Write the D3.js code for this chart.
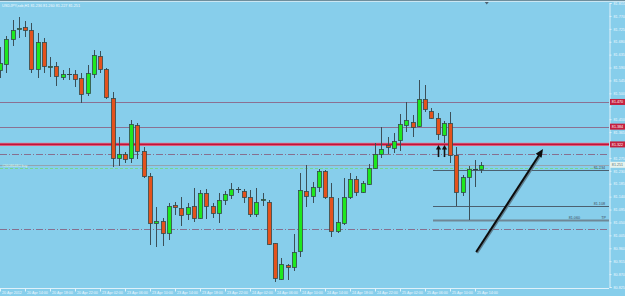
<!DOCTYPE html>
<html>
<head>
<meta charset="utf-8">
<script src="https://cdn.jsdelivr.net/npm/d3@7"></script>
<style>
  body { margin: 0; background: #87ceeb; overflow: hidden; }
  svg { display: block; font-family: "Liberation Sans", Arial, sans-serif; }
</style>
</head>
<body>
<div id="chart"></div>
<script>
// USDJPY H1, bars from 20 Apr 10:00 to 25 Apr 15:00
const openP  = [81.582,81.602,81.690,81.724,81.731,81.721,81.585,81.679,81.596,81.596,81.557,81.568,81.568,81.554,81.501,81.568,81.630,81.585,81.484,81.275,
                81.289,81.275,81.390,81.299,81.212,81.048,81.055,81.013,81.111,81.101,81.080,81.108,81.066,81.153,81.108,81.083,81.128,81.146,81.167,81.160,
                81.139,81.080,81.128,81.121,80.979,80.853,80.902,80.895,80.951,81.160,81.142,81.174,81.230,81.139,81.020,81.048,81.139,81.202,81.156,81.184,
                81.240,81.289,81.320,81.310,81.338,81.390,81.400,81.386,81.480,81.439,81.414,81.355,81.397,81.285,81.156,81.209,81.237,81.237];
const highP  = [81.662,81.700,81.756,81.766,81.752,81.745,81.710,81.693,81.627,81.609,81.582,81.589,81.582,81.571,81.599,81.651,81.648,81.587,81.505,81.348,
                81.296,81.407,81.395,81.313,81.223,81.104,81.066,81.118,81.121,81.139,81.118,81.170,81.163,81.167,81.118,81.153,81.160,81.188,81.174,81.167,
                81.163,81.170,81.153,81.128,80.980,80.926,80.905,81.010,81.223,81.250,81.191,81.237,81.233,81.188,81.135,81.205,81.223,81.212,81.195,81.254,
                81.327,81.383,81.348,81.362,81.428,81.470,81.425,81.547,81.529,81.449,81.432,81.404,81.435,81.313,81.216,81.247,81.268,81.261];
const lowP   = [81.554,81.571,81.665,81.693,81.697,81.571,81.554,81.571,81.557,81.526,81.547,81.547,81.522,81.467,81.491,81.554,81.571,81.480,81.243,81.247,
                81.257,81.257,81.271,81.205,80.972,80.965,80.968,80.989,81.076,81.038,81.059,81.052,81.062,81.062,81.066,81.048,81.111,81.132,81.153,81.118,
                81.069,81.069,81.108,80.972,80.843,80.850,80.850,80.881,80.930,81.104,81.118,81.156,81.132,80.999,81.013,81.041,81.132,81.142,81.153,81.181,
                81.237,81.275,81.289,81.292,81.299,81.365,81.348,81.383,81.435,81.411,81.338,81.327,81.257,81.108,81.142,81.059,81.174,81.223];
const closeP = [81.606,81.690,81.721,81.728,81.721,81.585,81.679,81.596,81.597,81.561,81.568,81.568,81.550,81.498,81.571,81.634,81.585,81.487,81.275,81.289,
                81.271,81.393,81.299,81.212,81.048,81.055,81.013,81.108,81.104,81.076,81.104,81.066,81.153,81.108,81.083,81.128,81.149,81.167,81.167,81.139,
                81.080,81.121,81.132,80.975,80.857,80.905,80.895,80.947,81.163,81.142,81.174,81.230,81.139,81.020,81.052,81.139,81.202,81.156,81.188,81.240,
                81.289,81.306,81.313,81.334,81.393,81.407,81.383,81.480,81.446,81.414,81.358,81.397,81.285,81.156,81.209,81.237,81.237,81.250];

const timeLabels = ["20 Apr 2012","20 Apr 14:00","20 Apr 18:00","20 Apr 22:00","23 Apr 02:00","23 Apr 06:00","23 Apr 10:00",
                    "23 Apr 14:00","23 Apr 18:00","23 Apr 22:00","24 Apr 02:00","24 Apr 06:00","24 Apr 10:00","24 Apr 14:00",
                    "24 Apr 18:00","24 Apr 22:00","25 Apr 02:00","25 Apr 06:00","25 Apr 10:00","25 Apr 14:00"];
const labelBars = timeLabels.map((d, i) => i * 4);

const priceTicks = [81.815,81.770,81.725,81.680,81.635,81.590,81.545,81.500,81.455,81.410,81.365,81.320,
                    81.275,81.230,81.185,81.140,81.095,81.050,81.005,80.960,80.915,80.870,80.825];

const levelPrices = [81.470, 81.384, 81.322];
const dashDotPrices = [81.290, 81.027];
const bidPrice = 81.251;
const orderOpen = 81.240;
const orderPrices = [81.234, 81.108, 81.060];
const orderLabels = ["81.234", "81.108", "81.060"];
const orderStartBar = 69.2;
const trendArrow = [[76.1, 80.947], [86.8, 81.306]];
const upArrowBars = [70, 71];
const upArrowPrices = [81.320, 81.278];

const W = 625, H = 296, axisX = 609, axisY = 288;

const svg = d3.select("#chart").append("svg")
    .attr("width", W)
    .attr("height", H);

const x = d3.scaleLinear().domain([0, 96]).range([0.5, 600.5]);
const y = d3.scaleLinear().domain([80.825, 81.815]).range([287, 3]);

svg.append("rect").attr("width", W).attr("height", H).attr("fill", "#87ceeb");

// top border
svg.append("rect").attr("x", 0).attr("y", 0).attr("width", W).attr("height", 1).attr("fill", "#6e8e9c");
svg.append("rect").attr("x", 0).attr("y", 1).attr("width", W).attr("height", 1).attr("fill", "#c9e6f3");

// header
svg.append("text")
    .attr("x", 2).attr("y", 7)
    .attr("font-size", 3.8)
    .attr("fill", "#f2faff")
    .text("USDJPY,sxb,H1  81.236 81.260 81.227 81.251");

// shift marker
const tx = x(77.8);
svg.append("path")
    .attr("d", `M${tx - 2},2 L${tx + 2},2 L${tx},4.5 Z`)
    .attr("fill", "#4a6070");

// horizontal levels
const py = p => Math.round(y(p)) + 0.5;
svg.selectAll(".level").data(levelPrices.slice(0, 2)).enter().append("line")
    .attr("x1", 0).attr("x2", axisX)
    .attr("y1", d => py(d)).attr("y2", d => py(d))
    .attr("stroke", "#8b7192").attr("stroke-width", 1);

svg.append("line")
    .attr("x1", 0).attr("x2", axisX)
    .attr("y1", y(levelPrices[2])).attr("y2", y(levelPrices[2]))
    .attr("stroke", "#e07890").attr("stroke-width", 3.2);
svg.append("line")
    .attr("x1", 0).attr("x2", axisX)
    .attr("y1", y(levelPrices[2])).attr("y2", y(levelPrices[2]))
    .attr("stroke", "#c0123a").attr("stroke-width", 1.8);

svg.selectAll(".dashdot").data(dashDotPrices).enter().append("line")
    .attr("x1", 0).attr("x2", axisX - 2)
    .attr("y1", d => py(d)).attr("y2", d => py(d))
    .attr("stroke", "#86708f").attr("stroke-width", 1)
    .attr("stroke-dasharray", "7,2,1,2");

// bid line
svg.append("line")
    .attr("x1", 0).attr("x2", axisX)
    .attr("y1", py(bidPrice)).attr("y2", py(bidPrice))
    .attr("stroke", "#94a2b0").attr("stroke-width", 1);

// open order line
svg.append("line")
    .attr("x1", 0).attr("x2", axisX - 8)
    .attr("y1", py(orderOpen)).attr("y2", py(orderOpen))
    .attr("stroke", "#74d890").attr("stroke-width", 1)
    .attr("stroke-dasharray", "3,2");
svg.append("text")
    .attr("x", 2).attr("y", py(bidPrice) + 1.5)
    .attr("font-size", 3.7)
    .attr("fill", "#dff5e6")
    .text("#26086480 buy");

// order / target lines
svg.selectAll(".order").data(orderPrices).enter().append("line")
    .attr("x1", x(orderStartBar)).attr("x2", axisX)
    .attr("y1", d => py(d)).attr("y2", d => py(d))
    .attr("stroke", (d, i) => i === 2 ? "#6f8796" : "#4b6070")
    .attr("stroke-width", (d, i) => i === 2 ? 2 : 1);

svg.selectAll(".orderLabel").data(orderPrices).enter().append("text")
    .attr("x", (d, i) => i === 2 ? 580 : 605)
    .attr("y", d => py(d) - 1.5)
    .attr("text-anchor", "end")
    .attr("font-size", 3.7)
    .attr("fill", "#3c4c5a")
    .text((d, i) => orderLabels[i]);
svg.append("text")
    .attr("x", 606).attr("y", py(orderPrices[2]) - 1.5)
    .attr("text-anchor", "end")
    .attr("font-size", 3.7)
    .attr("fill", "#3c4c5a")
    .text("TP");

// candles
const bars = d3.range(openP.length).map(i => ({
    i: i, o: openP[i], h: highP[i], l: lowP[i], c: closeP[i]
}));

const g = svg.append("g");
g.selectAll(".wick").data(bars).enter().append("line")
    .attr("x1", d => Math.floor(x(d.i)) + 0.5)
    .attr("x2", d => Math.floor(x(d.i)) + 0.5)
    .attr("y1", d => Math.round(y(d.h)))
    .attr("y2", d => Math.round(y(d.l)))
    .attr("stroke", "#3b4f58")
    .attr("stroke-width", 1);

g.selectAll(".body").data(bars.filter(d => d.o !== d.c)).enter().append("rect")
    .attr("x", d => Math.floor(x(d.i)) - 1.5)
    .attr("y", d => Math.round(y(Math.max(d.o, d.c))) + 0.5)
    .attr("width", 4)
    .attr("height", d => Math.max(1, Math.round(y(Math.min(d.o, d.c))) - Math.round(y(Math.max(d.o, d.c)))))
    .attr("fill", d => d.c > d.o ? "#1ee81e" : "#e4521c")
    .attr("stroke", "#344a4a")
    .attr("stroke-width", 0.8);

g.selectAll(".doji").data(bars.filter(d => d.o === d.c)).enter().append("line")
    .attr("x1", d => Math.floor(x(d.i)) - 2)
    .attr("x2", d => Math.floor(x(d.i)) + 3)
    .attr("y1", d => Math.round(y(d.o)) + 0.5)
    .attr("y2", d => Math.round(y(d.o)) + 0.5)
    .attr("stroke", "#2f4048")
    .attr("stroke-width", 1);

// up arrows
upArrowBars.forEach(b => {
    const ax = Math.floor(x(b)) + 0.5, top = y(upArrowPrices[0]), bot = y(upArrowPrices[1]);
    svg.append("line")
        .attr("x1", ax).attr("x2", ax).attr("y1", top + 3).attr("y2", bot)
        .attr("stroke", "#111").attr("stroke-width", 1.6);
    svg.append("path")
        .attr("d", `M${ax},${top} L${ax - 2.6},${top + 4.5} L${ax + 2.6},${top + 4.5} Z`)
        .attr("fill", "#111");
});

// trend arrow
const ax1 = x(trendArrow[0][0]), ay1 = y(trendArrow[0][1]);
const ax2 = x(trendArrow[1][0]), ay2 = y(trendArrow[1][1]);
const ang = Math.atan2(ay2 - ay1, ax2 - ax1);
svg.append("line")
    .attr("x1", ax1 + 1).attr("y1", ay1 + 1).attr("x2", ax2 - 6 * Math.cos(ang) + 1).attr("y2", ay2 - 6 * Math.sin(ang) + 1)
    .attr("stroke", "#5f7f8f").attr("stroke-width", 2.2);
svg.append("line")
    .attr("x1", ax1).attr("y1", ay1).attr("x2", ax2 - 5 * Math.cos(ang)).attr("y2", ay2 - 5 * Math.sin(ang))
    .attr("stroke", "#0c0c0c").attr("stroke-width", 2);
const hl = 8, hw = 3.5;
const bx = ax2 - hl * Math.cos(ang), by = ay2 - hl * Math.sin(ang);
svg.append("path")
    .attr("d", `M${ax2},${ay2} L${bx + hw * Math.sin(ang)},${by - hw * Math.cos(ang)} L${bx - hw * Math.sin(ang)},${by + hw * Math.cos(ang)} Z`)
    .attr("fill", "#0c0c0c");

// price axis (labels hidden under price boxes are left blank)
const boxPrices = levelPrices.concat([bidPrice]);
const hiddenTick = d => boxPrices.some(p => Math.abs(y(p) - y(d)) < 5);
const yAxis = svg.append("g")
    .attr("transform", `translate(${axisX + 0.5},0)`)
    .call(d3.axisRight(y).tickValues(priceTicks).tickSize(2).tickPadding(2)
        .tickFormat(d => hiddenTick(d) ? "" : d3.format(".3f")(d)));
yAxis.select(".domain").attr("stroke", "#dff1fa");
yAxis.selectAll(".tick line").attr("stroke", "#dff1fa");
yAxis.selectAll("text").attr("font-size", 3.7).attr("fill", "#eef8ff").attr("font-family", "Liberation Sans, Arial, sans-serif");

// time axis
const xAxis = svg.append("g")
    .attr("transform", `translate(0,${axisY + 0.5})`)
    .call(d3.axisBottom(x).tickValues(labelBars).tickSize(3).tickSizeOuter(0).tickFormat((d, i) => timeLabels[i]));
xAxis.select(".domain").attr("stroke", "#dff1fa").attr("d", `M0,0H${axisX}`);
xAxis.selectAll(".tick line").attr("stroke", "#dff1fa").attr("transform", "translate(-0.5,0)");
xAxis.selectAll("text")
    .attr("font-size", 3.7).attr("fill", "#eef8ff")
    .attr("font-family", "Liberation Sans, Arial, sans-serif")
    .attr("text-anchor", "start").attr("dx", 1).attr("y", 2).attr("dy", "0.9em");

// level price boxes
svg.selectAll(".levelBox").data(levelPrices).enter().append("rect")
    .attr("x", axisX + 1).attr("y", d => y(d) - 3)
    .attr("width", 15).attr("height", 6)
    .attr("fill", "#c4203e");
svg.selectAll(".levelText").data(levelPrices).enter().append("text")
    .attr("x", axisX + 8.5).attr("y", d => y(d) + 1.4)
    .attr("text-anchor", "middle")
    .attr("font-size", 3.7).attr("fill", "#ffffff")
    .text(d => d3.format(".3f")(d));

// bid box
svg.append("rect")
    .attr("x", axisX + 1).attr("y", y(bidPrice) - 3)
    .attr("width", 15).attr("height", 6)
    .attr("fill", "#e6f3ee");
svg.append("text")
    .attr("x", axisX + 8.5).attr("y", y(bidPrice) + 1.4)
    .attr("text-anchor", "middle")
    .attr("font-size", 3.7).attr("fill", "#55707a")
    .text(d3.format(".3f")(bidPrice));
</script>
</body>
</html>
